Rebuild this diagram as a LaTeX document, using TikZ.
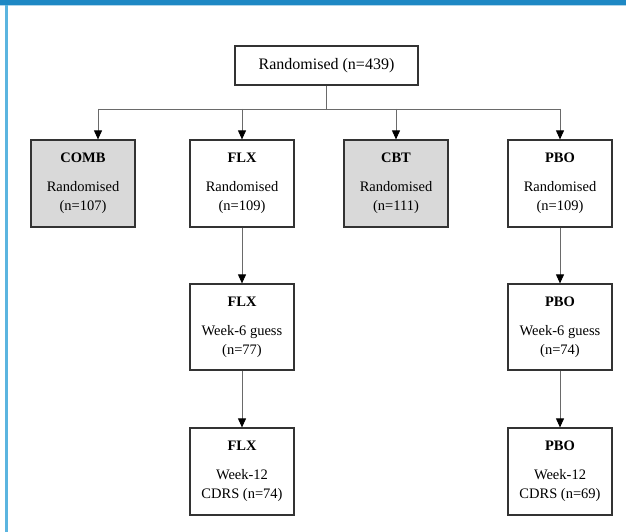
\documentclass[tikz,border=0pt]{standalone}
\usepackage{fontspec}
\setmainfont{Liberation Serif}
\usetikzlibrary{arrows.meta}
\definecolor{topblue}{HTML}{1E88C4}
\definecolor{sideblue}{HTML}{5BB5E0}
\definecolor{boxgray}{HTML}{D9D9D9}
\definecolor{edgegray}{HTML}{333333}
\definecolor{linegray}{HTML}{6A6A6A}
\begin{document}
\begin{tikzpicture}[x=1pt,y=-1pt,
  box/.style={draw=edgegray, line width=1.2pt, minimum width=104pt, minimum height=87pt,
    inner sep=0pt, align=center, font=\fontsize{14.5}{19}\selectfont},
  grey/.style={box, fill=boxgray},
  conn/.style={draw=linegray, line width=0.9pt},
  arr/.style={conn, -{Triangle[length=9pt,width=8pt,color=black]}}]
\useasboundingbox (0,0) rectangle (626,532);
\fill[white] (0,0) rectangle (626,532);
\fill[topblue] (0,0) rectangle (626,5);
\fill[topblue!35] (0,5) rectangle (626,6.2);
\fill[sideblue] (5,5) rectangle (7.5,532);

\node[box, minimum width=183pt, minimum height=39pt, font=\fontsize{16}{19}\selectfont] (top) at (326.5,65.5) {Randomised (n=439)};

\node[grey] (comb) at (83,183.5) {\textbf{COMB}\\[10pt]Randomised\\(n=107)};
\node[box] (flx1) at (242,183.5) {\textbf{FLX}\\[10pt]Randomised\\(n=109)};
\node[grey] (cbt) at (396,183.5) {\textbf{CBT}\\[10pt]Randomised\\(n=111)};
\node[box] (pbo1) at (560,183.5) {\textbf{PBO}\\[10pt]Randomised\\(n=109)};

\node[box, minimum height=86pt] (flx2) at (242,327) {\textbf{FLX}\\[10pt]Week-6 guess\\(n=77)};
\node[box, minimum height=86pt] (pbo2) at (560,327) {\textbf{PBO}\\[10pt]Week-6 guess\\(n=74)};

\node[box] (flx3) at (242,471.5) {\textbf{FLX}\\[10pt]Week-12\\CDRS (n=74)};
\node[box] (pbo3) at (560,471.5) {\textbf{PBO}\\[10pt]Week-12\\CDRS (n=69)};

\coordinate (hl) at (98,109);
\coordinate (hr) at (561,109);
\draw[conn] (top.south) -- (top.south |- hl);
\draw[conn] (hl) -- (hr);
\draw[arr] (hl) -- (hl |- comb.north);
\draw[arr] (flx1.north |- hl) -- (flx1.north);
\draw[arr] (cbt.north |- hl) -- (cbt.north);
\draw[arr] (pbo1.north |- hl) -- (pbo1.north);

\draw[arr] (flx1) -- (flx2);
\draw[arr] (flx2) -- (flx3);
\draw[arr] (pbo1) -- (pbo2);
\draw[arr] (pbo2) -- (pbo3);
\end{tikzpicture}
\end{document}
